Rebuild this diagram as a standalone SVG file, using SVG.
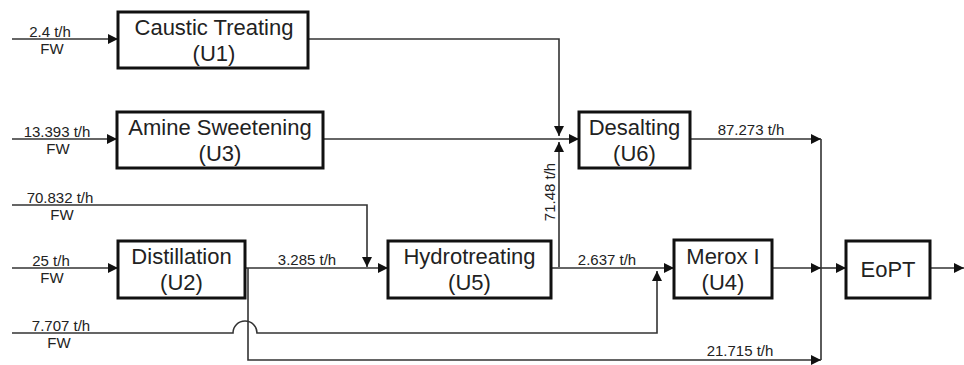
<svg xmlns="http://www.w3.org/2000/svg" width="964" height="365" viewBox="0 0 964 365">
<defs>
<marker id="ar" viewBox="0 0 10 10" refX="10" refY="5" markerWidth="10" markerHeight="10" markerUnits="userSpaceOnUse" orient="auto">
<path d="M0,0 L10,5 L0,10 z" fill="#111"/>
</marker>
<style>
.box{fill:#fff;stroke:#111;stroke-width:3}
.bt{font-family:"Liberation Sans",Arial,sans-serif;font-size:22px;fill:#222;text-anchor:middle}
.ft{font-family:"Liberation Sans",Arial,sans-serif;font-size:15px;fill:#222;text-anchor:middle}
.ln{fill:none;stroke:#333;stroke-width:1.6}
.la{fill:none;stroke:#333;stroke-width:1.6;marker-end:url(#ar)}
</style>
</defs>
<rect width="964" height="365" fill="#fff"/>
<g id="connectors">
<path class="la" d="M12,39 H118"/>
<path class="la" d="M12,139 H117"/>
<path class="la" d="M12,268 H118"/>
<path class="la" d="M308,39 H559 V136"/>
<path class="ln" d="M323,139 H559"/>
<path class="la" d="M559,139 H579"/>
<path class="la" d="M559,267 V142"/>
<path class="la" d="M12,205 H367 V267"/>
<path class="la" d="M245,268 H388"/>
<path class="la" d="M551,268 H674"/>
<path class="la" d="M12,333 H233 A8,8 0 0 1 257,333 H657 V271"/>
<path class="la" d="M248,268 V360 H821"/>
<path class="la" d="M690,139 H821"/>
<path class="ln" d="M821,139 V360"/>
<path class="la" d="M772,268 H821"/>
<path class="la" d="M821,268 H846"/>
<path class="la" d="M930,268 H964"/>
</g>
<g id="u1"><rect class="box" x="118" y="12" width="190" height="56"/><text class="bt" x="214" y="35">Caustic Treating</text><text class="bt" x="214" y="61">(U1)</text></g>
<g id="u3"><rect class="box" x="117" y="112" width="206" height="56"/><text class="bt" x="220" y="135">Amine Sweetening</text><text class="bt" x="220" y="161">(U3)</text></g>
<g id="u6"><rect class="box" x="579" y="112" width="111" height="56"/><text class="bt" x="634.5" y="135">Desalting</text><text class="bt" x="634.5" y="161">(U6)</text></g>
<g id="u2"><rect class="box" x="118" y="241" width="127" height="57"/><text class="bt" x="181.5" y="264">Distillation</text><text class="bt" x="181.5" y="290">(U2)</text></g>
<g id="u5"><rect class="box" x="388" y="241" width="163" height="57"/><text class="bt" x="469.5" y="264">Hydrotreating</text><text class="bt" x="469.5" y="290">(U5)</text></g>
<g id="u4"><rect class="box" x="674" y="240" width="98" height="58"/><text class="bt" x="723" y="264">Merox I</text><text class="bt" x="723" y="290">(U4)</text></g>
<g id="eopt"><rect class="box" x="846" y="241" width="84" height="57"/><text class="bt" x="888" y="277">EoPT</text></g>
<g id="labels">
<text class="ft" x="50" y="37">2.4 t/h</text><text class="ft" x="52" y="54">FW</text>
<text class="ft" x="57" y="137">13.393 t/h</text><text class="ft" x="58" y="154">FW</text>
<text class="ft" x="60" y="203">70.832 t/h</text><text class="ft" x="62" y="220">FW</text>
<text class="ft" x="51" y="266">25 t/h</text><text class="ft" x="52" y="283">FW</text>
<text class="ft" x="61" y="331">7.707 t/h</text><text class="ft" x="59" y="348">FW</text>
<text class="ft" x="307" y="265">3.285 t/h</text>
<text class="ft" x="607" y="265">2.637 t/h</text>
<text class="ft" x="751" y="135">87.273 t/h</text>
<text class="ft" x="740" y="356">21.715 t/h</text>
<text class="ft" transform="translate(555,192) rotate(-90)">71.48 t/h</text>
</g>
</svg>
